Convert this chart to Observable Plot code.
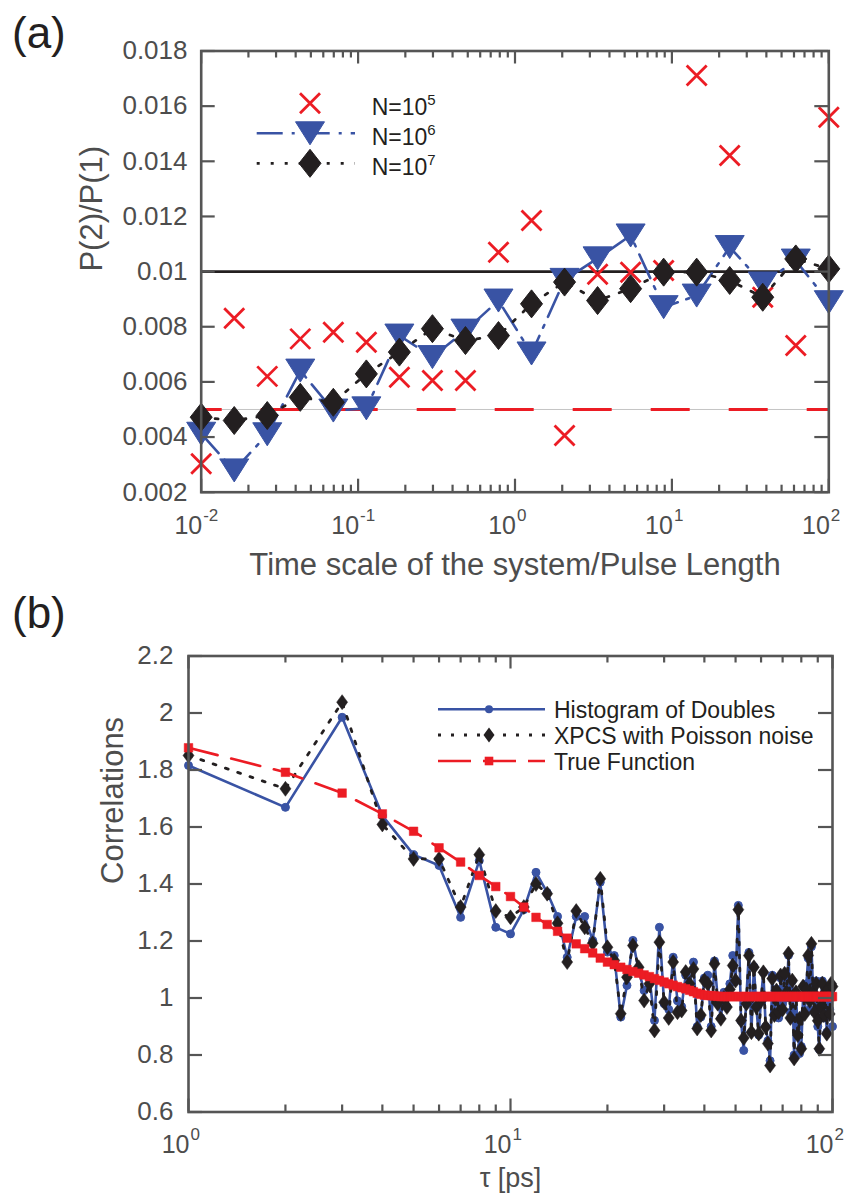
<!DOCTYPE html>
<html><head><meta charset="utf-8">
<script src="https://cdn.jsdelivr.net/npm/d3@7"></script>
<script src="https://cdn.jsdelivr.net/npm/@observablehq/plot@0.6"></script>
<style>
body{margin:0;background:#fff;}
#page{position:relative;width:851px;height:1194px;overflow:hidden;background:#fff;font-family:"Liberation Sans",Arial,Helvetica,sans-serif;}
#pa,#pb,#ov{position:absolute;left:0;}
#pa{top:0;} #pb{top:600px;} #ov{top:0;pointer-events:none;}
</style></head>
<body><div id="page"><div id="pa"></div><div id="pb"></div><svg id="ov" width="851" height="1194"></svg></div>
<script>
// ---------------- Panel (a) data ----------------
const ratioA = [0.01, 0.016238, 0.026367, 0.042813, 0.069519, 0.11288, 0.18330, 0.29764, 0.48329, 0.78476,
                1.2743, 2.0691, 3.3598, 5.4556, 8.8587, 14.384, 23.357, 37.927, 61.585, 100];
const n1e5 = [0.00303, 0.00831, 0.0062, 0.00756, 0.0078, 0.00744, 0.00617, 0.00605, 0.00605, 0.0107,
              0.01185, 0.00406, 0.0099, 0.00998, 0.01004, 0.01711, 0.01421, 0.00907, 0.00732, 0.0156];
const n1e6 = [0.00412, 0.00279, 0.0041, 0.00641, 0.00496, 0.00504, 0.00768, 0.0069, 0.00786, 0.00895,
              0.00703, 0.0097, 0.01048, 0.01131, 0.00871, 0.00913, 0.01089, 0.00957, 0.0104, 0.00889];
const n1e7 = [0.00472, 0.0046, 0.00478, 0.00544, 0.00526, 0.00629, 0.00708, 0.00793, 0.0075, 0.00768,
              0.00883, 0.00962, 0.00895, 0.00938, 0.00998, 0.00998, 0.00968, 0.00907, 0.01046, 0.0101];
const refLevelsA = [0.005, 0.01];
const yTicksA = [0.002, 0.004, 0.006, 0.008, 0.01, 0.012, 0.014, 0.016, 0.018];
const yTickLabelsA = ["0.002", "0.004", "0.006", "0.008", "0.01", "0.012", "0.014", "0.016", "0.018"];
const xMajorA = [0.01, 0.1, 1, 10, 100];
const xExpA = ["-2", "-1", "0", "1", "2"];
const xMinorA = [0.02,0.03,0.04,0.05,0.06,0.07,0.08,0.09, 0.2,0.3,0.4,0.5,0.6,0.7,0.8,0.9,
                 2,3,4,5,6,7,8,9, 20,30,40,50,60,70,80,90];
const legendA = ["N=10", "N=10", "N=10"];
const legendExpA = ["5", "6", "7"];

// ---------------- Panel (b) data ----------------
const tau = [1,2,3,4,5,6,7,8,9,10,11,12,13,14,15,16,17,18,19,20,21,22,23,24,25,26,27,28,29,30,
  31,32,33,34,35,36,37,38,39,40,41,42,43,44,45,46,47,48,49,50,51,52,53,54,55,56,57,58,59,60,
  61,62,63,64,65,66,67,68,69,70,71,72,73,74,75,76,77,78,79,80,81,82,83,84,85,86,87,88,89,90,
  91,92,93,94,95,96,97,98,99,100];
const histDoubles = [1.816,1.669,1.985,1.64,1.503,1.465,1.283,1.482,1.248,1.225,
  1.31,1.441,1.37,1.286,1.143,1.286,1.286,1.202,1.406,1.161,
  1.149,0.933,1.044,1.202,1.096,1.026,1.073,0.921,1.248,0.98,
  0.96,1.143,0.99,0.97,1.08,1.04,1.126,0.90,0.933,1.07,
  1.08,0.90,1.13,1.0,0.93,1.02,0.97,1.05,1.149,1.06,
  1.325,0.92,0.816,1.0,1.16,0.88,1.11,0.97,0.87,1.0,
  1.09,0.90,0.85,0.78,1.08,0.95,1.03,0.93,1.07,0.98,
  1.08,1.0,1.15,0.95,1.06,0.80,1.0,0.9,0.805,0.83,
  1.0,0.95,1.05,1.14,0.96,1.18,1.03,0.95,1.06,0.9,
  0.82,0.98,1.06,0.93,1.0,0.88,1.04,0.96,1.03,0.9];
const xpcsPoisson = [1.851,1.734,2.038,1.609,1.488,1.488,1.319,1.503,1.305,1.283,
  1.319,1.40,1.366,1.262,1.126,1.305,1.248,1.192,1.418,1.178,
  1.132,0.945,1.073,1.184,1.108,0.991,1.05,0.886,1.196,0.985,
  0.93,1.126,0.95,0.956,1.091,1.05,1.102,0.893,0.94,1.061,
  1.05,0.886,1.12,0.98,0.927,1.0,0.968,1.03,1.114,1.061,
  1.31,0.921,0.86,0.98,1.149,0.88,1.108,0.968,0.875,0.99,
  1.09,0.898,0.84,0.763,1.068,0.94,1.026,0.95,1.079,0.96,
  1.085,1.02,1.156,0.93,1.061,0.788,1.02,0.87,0.927,0.822,
  1.04,0.944,1.03,1.149,0.99,1.19,1.02,0.95,1.05,0.92,
  0.822,0.97,1.05,0.94,1.02,0.875,1.03,0.944,1.05,1.04];
const trueFunction = [1.878,1.792,1.719,1.646,1.585,1.527,1.477,1.43,1.391,1.356,
  1.319,1.283,1.258,1.234,1.21,1.19,1.173,1.158,1.14,1.126,
  1.117,1.108,1.1,1.093,1.087,1.081,1.075,1.068,1.062,1.056,
  1.05,1.045,1.04,1.036,1.032,1.027,1.022,1.017,1.013,1.01,
  1.009,1.008,1.007,1.006,1.005,1.005,1.005,1.005,1.005,1.005,
  1.005,1.005,1.005,1.005,1.005,1.005,1.005,1.005,1.005,1.005,
  1.005,1.005,1.005,1.005,1.005,1.005,1.005,1.005,1.005,1.005,
  1.005,1.005,1.005,1.005,1.005,1.005,1.005,1.005,1.005,1.005,
  1.005,1.005,1.005,1.005,1.005,1.005,1.005,1.005,1.005,1.005,
  1.005,1.005,1.005,1.005,1.005,1.005,1.005,1.005,1.005,1.005];
const yTicksB = [0.6, 0.8, 1, 1.2, 1.4, 1.6, 1.8, 2, 2.2];
const yTickLabelsB = ["0.6", "0.8", "1", "1.2", "1.4", "1.6", "1.8", "2", "2.2"];
const xMajorB = [1, 10, 100];
const xExpB = ["0", "1", "2"];
const xMinorB = [2,3,4,5,6,7,8,9,20,30,40,50,60,70,80,90];
const legendB = ["Histogram of Doubles", "XPCS with Poisson noise", "True Function"];

// ---------------- styling ----------------
const FONT = '"Liberation Sans", Arial, Helvetica, sans-serif';
const AX = "#555555", TXT = "#4d4d4d", DARK = "#231f20";
const RED = "#ec1c24", BLUE = "#3953a4", BLACK = "#231f20";

// custom marker shapes (pixel sizes)
const symTimes = {draw(c){ c.moveTo(-10,-10); c.lineTo(10,10); c.moveTo(10,-10); c.lineTo(-10,10); }};
const symTriDown = {draw(c){ c.moveTo(-14.5,-11.5); c.lineTo(14.5,-11.5); c.lineTo(0,11.5); c.closePath(); }};
const symDiamA = {draw(c){ c.moveTo(0,-14); c.lineTo(11,0); c.lineTo(0,14); c.lineTo(-11,0); c.closePath(); }};
const symDiamB = {draw(c){ c.moveTo(0,-7.5); c.lineTo(5.5,0); c.lineTo(0,7.5); c.lineTo(-5.5,0); c.closePath(); }};
const symSquareB = {draw(c){ c.moveTo(-4.3,-4.3); c.lineTo(4.3,-4.3); c.lineTo(4.3,4.3); c.lineTo(-4.3,4.3); c.closePath(); }};

function boxTicks(xMajor, xMinor, yTicks, innerW, innerH) {
  const s = {stroke: AX, strokeWidth: 2.2};
  return [
    Plot.ruleX(xMajor, {x: d => d, ...s, insetTop: innerH - 13}),
    Plot.ruleX(xMajor, {x: d => d, ...s, insetBottom: innerH - 13}),
    Plot.ruleX(xMinor, {x: d => d, ...s, insetTop: innerH - 7}),
    Plot.ruleX(xMinor, {x: d => d, ...s, insetBottom: innerH - 7}),
    Plot.ruleY(yTicks, {y: d => d, ...s, insetRight: innerW - 14}),
    Plot.ruleY(yTicks, {y: d => d, ...s, insetLeft: innerW - 14}),
    Plot.frame({stroke: AX, strokeWidth: 2.6})
  ];
}

// ---------------- Panel (a) ----------------
const WA = 851, HA = 600;
const mA = {top: 50.5, right: 22.7, bottom: 108.3, left: 200.7};
const iWA = WA - mA.left - mA.right, iHA = HA - mA.top - mA.bottom;
const rowsA = ratioA.map((x, i) => ({x, n5: n1e5[i], n6: n1e6[i], n7: n1e7[i]}));
const yTickRowsA = yTicksA.map((v, i) => ({v, label: yTickLabelsA[i]}));
const xTickRowsA = xMajorA.map((v, i) => ({v, e: xExpA[i]}));

const plotA = Plot.plot({
  width: WA, height: HA,
  marginTop: mA.top, marginRight: mA.right, marginBottom: mA.bottom, marginLeft: mA.left,
  x: {type: "log", domain: [0.01, 100], axis: null},
  y: {domain: [0.002, 0.018], axis: null},
  style: {fontFamily: FONT, background: "white", overflow: "visible"},
  marks: [
    Plot.ruleY([refLevelsA[0]], {y: d => d, stroke: "#c4c4c4", strokeWidth: 1}),
    Plot.ruleY([refLevelsA[0]], {y: d => d, stroke: RED, strokeWidth: 2.8, strokeDasharray: "39,39", strokeDashoffset: 18}),
    Plot.ruleY([refLevelsA[1]], {y: d => d, stroke: BLACK, strokeWidth: 2.6}),
    Plot.dot(rowsA, {x: "x", y: "n5", symbol: symTimes, r: 10, stroke: RED, fill: "none", strokeWidth: 2.8}),
    Plot.line(rowsA, {x: "x", y: "n6", stroke: BLUE, strokeWidth: 2.6, strokeDasharray: "26,9,3,9"}),
    Plot.dot(rowsA, {x: "x", y: "n6", symbol: symTriDown, r: 10, fill: BLUE, stroke: BLUE, strokeWidth: 1}),
    Plot.line(rowsA, {x: "x", y: "n7", stroke: BLACK, strokeWidth: 2.8, strokeDasharray: "3,11"}),
    Plot.dot(rowsA, {x: "x", y: "n7", symbol: symDiamA, r: 10, fill: BLACK, stroke: BLACK, strokeWidth: 1}),
    ...boxTicks(xMajorA, xMinorA, yTicksA, iWA, iHA),
    Plot.text(yTickRowsA, {y: "v", text: "label", frameAnchor: "left", textAnchor: "end", lineAnchor: "middle", dx: -13.7, fontSize: 26, fill: TXT}),
    Plot.text(xTickRowsA, {x: "v", text: () => "10", frameAnchor: "bottom", textAnchor: "end", lineAnchor: "bottom", dx: 1, dy: 41.3, fontSize: 25, fill: TXT}),
    Plot.text(xTickRowsA, {x: "v", text: "e", frameAnchor: "bottom", textAnchor: "start", lineAnchor: "bottom", dx: 2, dy: 28.5, fontSize: 17, fill: TXT}),
    Plot.text(["Time scale of the system/Pulse Length"], {frameAnchor: "bottom", lineAnchor: "bottom", dy: 82.3, fontSize: 31, fill: TXT}),
    Plot.text(["P(2)/P(1)"], {frameAnchor: "left", rotate: -90, lineAnchor: "bottom", dx: -99, fontSize: 31, fill: TXT})
  ]
});
document.getElementById("pa").appendChild(plotA);

// ---------------- Panel (b) ----------------
const WB = 851, HB = 594;
const mB = {top: 55.5, right: 19, bottom: 82.5, left: 188};
const iWB = WB - mB.left - mB.right, iHB = HB - mB.top - mB.bottom;
const rowsB = tau.map((t, i) => ({tau: t, hist: histDoubles[i], xpcs: xpcsPoisson[i], truef: trueFunction[i]}));
const yTickRowsB = yTicksB.map((v, i) => ({v, label: yTickLabelsB[i]}));
const xTickRowsB = xMajorB.map((v, i) => ({v, e: xExpB[i]}));

const plotB = Plot.plot({
  width: WB, height: HB,
  marginTop: mB.top, marginRight: mB.right, marginBottom: mB.bottom, marginLeft: mB.left,
  x: {type: "log", domain: [1, 100], axis: null},
  y: {domain: [0.6, 2.2], axis: null},
  style: {fontFamily: FONT, background: "white", overflow: "visible"},
  marks: [
    Plot.line(rowsB, {x: "tau", y: "hist", stroke: BLUE, strokeWidth: 2.6}),
    Plot.dot(rowsB, {x: "tau", y: "hist", r: 4, fill: BLUE, stroke: BLUE, strokeWidth: 1}),
    Plot.line(rowsB, {x: "tau", y: "xpcs", stroke: BLACK, strokeWidth: 2.8, strokeDasharray: "3,10"}),
    Plot.dot(rowsB, {x: "tau", y: "xpcs", symbol: symDiamB, r: 5, fill: BLACK, stroke: BLACK, strokeWidth: 0.5}),
    Plot.line(rowsB, {x: "tau", y: "truef", stroke: RED, strokeWidth: 2.6, strokeDasharray: "30,14"}),
    Plot.dot(rowsB, {x: "tau", y: "truef", symbol: symSquareB, r: 5, fill: RED, stroke: RED, strokeWidth: 0.5}),
    ...boxTicks(xMajorB, xMinorB, yTicksB, iWB, iHB),
    Plot.text(yTickRowsB, {y: "v", text: "label", frameAnchor: "left", textAnchor: "end", lineAnchor: "middle", dx: -15, fontSize: 26, fill: TXT}),
    Plot.text(xTickRowsB, {x: "v", text: () => "10", frameAnchor: "bottom", textAnchor: "end", lineAnchor: "bottom", dx: 1, dy: 40.5, fontSize: 25, fill: TXT}),
    Plot.text(xTickRowsB, {x: "v", text: "e", frameAnchor: "bottom", textAnchor: "start", lineAnchor: "bottom", dx: 2, dy: 28, fontSize: 17, fill: TXT}),
    Plot.text(["τ [ps]"], {frameAnchor: "bottom", lineAnchor: "bottom", dy: 74.5, fontSize: 27, fill: TXT}),
    Plot.text(["Correlations"], {frameAnchor: "left", rotate: -90, lineAnchor: "bottom", dx: -66, fontSize: 31, fill: TXT})
  ]
});
document.getElementById("pb").appendChild(plotB);

// ---------------- overlay: panel letters & legends ----------------
const ov = d3.select("#ov").style("font-family", FONT);
ov.append("text").attr("x", 12).attr("y", 48).attr("font-size", 44).attr("fill", DARK).text("(a)");
ov.append("text").attr("x", 12).attr("y", 628).attr("font-size", 44).attr("fill", DARK).text("(b)");

// legend (a)
const legA = ov.append("g");
const rowYA = [103.3, 133.3, 163.3];
const pathOf = s => { const p = d3.path(); s.draw(p); return p.toString(); };
legA.append("path").attr("d", pathOf(symTimes)).attr("transform", `translate(310,${rowYA[0]})`)
  .attr("stroke", RED).attr("stroke-width", 2.8).attr("fill", "none");
legA.append("line").attr("x1", 256.7).attr("x2", 355).attr("y1", rowYA[1]).attr("y2", rowYA[1])
  .attr("stroke", BLUE).attr("stroke-width", 2.6).attr("stroke-dasharray", "26,9,3,9");
legA.append("path").attr("d", pathOf(symTriDown)).attr("transform", `translate(310,${rowYA[1]})`)
  .attr("fill", BLUE).attr("stroke", BLUE);
legA.append("line").attr("x1", 256.7).attr("x2", 355).attr("y1", rowYA[2]).attr("y2", rowYA[2])
  .attr("stroke", BLACK).attr("stroke-width", 2.8).attr("stroke-dasharray", "3,11");
legA.append("path").attr("d", pathOf(symDiamA)).attr("transform", `translate(310,${rowYA[2]})`)
  .attr("fill", BLACK).attr("stroke", BLACK);
legendA.forEach((t, i) => {
  const tx = legA.append("text").attr("x", 371.7).attr("y", rowYA[i] + 11.7).attr("font-size", 23).attr("fill", DARK);
  tx.append("tspan").text(t);
  tx.append("tspan").attr("dy", -10).attr("font-size", 15).text(legendExpA[i]);
});

// legend (b)
const legB = ov.append("g");
const rowYB = [709.3, 735, 761];
legB.append("line").attr("x1", 438).attr("x2", 545).attr("y1", rowYB[0]).attr("y2", rowYB[0])
  .attr("stroke", BLUE).attr("stroke-width", 2.6);
legB.append("circle").attr("cx", 489).attr("cy", rowYB[0]).attr("r", 4).attr("fill", BLUE);
legB.append("line").attr("x1", 438).attr("x2", 545).attr("y1", rowYB[1]).attr("y2", rowYB[1])
  .attr("stroke", BLACK).attr("stroke-width", 2.8).attr("stroke-dasharray", "3,10");
legB.append("path").attr("d", pathOf(symDiamB)).attr("transform", `translate(489,${rowYB[1]})`).attr("fill", BLACK);
legB.append("line").attr("x1", 438).attr("x2", 545).attr("y1", rowYB[2]).attr("y2", rowYB[2])
  .attr("stroke", RED).attr("stroke-width", 2.6).attr("stroke-dasharray", "33,12");
legB.append("path").attr("d", pathOf(symSquareB)).attr("transform", `translate(489,${rowYB[2]})`).attr("fill", RED);
legendB.forEach((t, i) => {
  legB.append("text").attr("x", 554).attr("y", rowYB[i] + 9).attr("font-size", 23).attr("fill", DARK).text(t);
});
</script>
</body></html>
